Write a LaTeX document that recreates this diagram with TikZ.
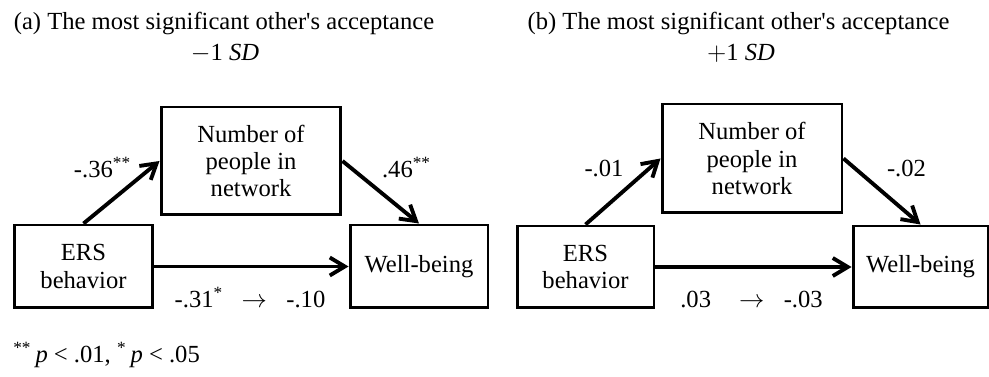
\documentclass[tikz,border=0pt]{standalone}
\usepackage{fontspec}
\setmainfont{Liberation Serif}
\usetikzlibrary{arrows.meta}

\tikzset{
  varbox/.style={draw, line width=1.7pt, align=center, inner sep=0pt,
    font=\fontsize{14}{15.5}\selectfont},
  effect/.style={line width=2.2pt, -{Straight Barb[length=3mm,width=3.6mm]}},
  coef/.style={font=\fontsize{14}{16}\selectfont, inner sep=0pt, anchor=base}
}

\begin{document}
\begin{tikzpicture}[x=0.02cm,y=-0.02cm]
    \useasboundingbox (0,0) rectangle (989,377);

    % (a) -1 SD
    \node[coef] (titleA) at (224,30) {(a) The most significant other\textquotesingle s acceptance};
    \node[coef] (sdA) at (225,61) {$-$1 \textit{SD}};

    \node[varbox, minimum width=3.6cm, minimum height=2.16cm] (numA) at (251,161)
        {Number of\\people in\\network};
    \node[varbox, minimum width=2.78cm, minimum height=1.66cm] (ersA) at (83.5,266.5)
        {ERS\\behavior};
    \node[varbox, minimum width=2.76cm, minimum height=1.66cm] (wellA) at (419,266.5)
        {Well-being};

    \draw[effect] (ersA.north) -- (numA.west);
    \draw[effect] (numA.east) -- (wellA.north);
    \draw[effect] (ersA.east) -- (wellA.west);

    \node[coef] (aA) at (102.5,178) {-.36\textsuperscript{**}};
    \node[coef] (bA) at (406.5,178) {.46\textsuperscript{**}};
    \node[coef] (cA) at (250,308)
        {-.31\rlap{\textsuperscript{*}}\hspace{16pt}$\rightarrow$\hspace{11pt}-.10};

    % (b) +1 SD
    \node[coef] (titleB) at (738.5,30) {(b) The most significant other\textquotesingle s acceptance};
    \node[coef] (sdB) at (741,61) {$+$1 \textit{SD}};

    \node[varbox, minimum width=3.6cm, minimum height=2.18cm] (numB) at (752,158.5)
        {Number of\\people in\\network};
    \node[varbox, minimum width=2.74cm, minimum height=1.64cm] (ersB) at (585.5,267)
        {ERS\\behavior};
    \node[varbox, minimum width=2.7cm, minimum height=1.64cm] (wellB) at (920.5,267)
        {Well-being};

    \draw[effect] (ersB.north) -- (numB.west);
    \draw[effect] (numB.east) -- (wellB.north);
    \draw[effect] (ersB.east) -- (wellB.west);

    \node[coef] (aB) at (604,177) {-.01};
    \node[coef] (bB) at (906.5,177) {-.02};
    \node[coef] (cB) at (751.5,308)
        {.03\hspace{16pt}$\rightarrow$\hspace{11pt}-.03};

    % note
    \node[coef, anchor=base west] (note) at (13,363)
        {\textsuperscript{**}\,\textit{p} < .01, \textsuperscript{*}\,\textit{p} < .05};
\end{tikzpicture}
\end{document}
